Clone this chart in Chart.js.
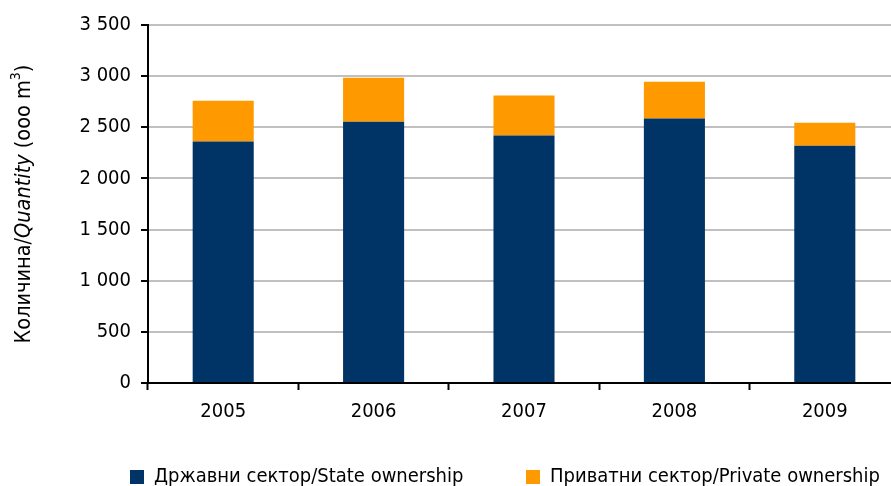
<!DOCTYPE html>
<html>
<head>
<meta charset="utf-8">
<script src="https://cdn.jsdelivr.net/npm/chart.js@4"></script>
<style>
  html, body { margin: 0; padding: 0; background: #fff; overflow: hidden; width: 891px; height: 486px; }
  #wrap { position: absolute; left: 0; top: 0; width: 1000px; height: 497px; }
</style>
</head>
<body>
<div id="wrap"><canvas id="c" width="1000" height="497"></canvas></div>
<script>
// ---- data ----
const years = ['2005', '2006', '2007', '2008', '2009'];
const stateOwnership = [2360, 2555, 2420, 2585, 2320];
const privateOwnership = [400, 430, 390, 360, 225];
const seriesNames = ['Државни сектор/State ownership', 'Приватни сектор/Private ownership'];
const yMin = 0, yMax = 3500, yStep = 500;
const titleParts = [
  { text: 'Количина/', style: 'normal' },
  { text: 'Quantity', style: 'italic' },
  { text: ' (ooo m', style: 'normal' },
  { text: '3', style: 'sup' },
  { text: ')', style: 'normal' }
];

// ---- layout helpers ----
const FAMILY = '"DejaVu Sans Condensed", "DejaVu Sans", sans-serif';
const FS = 20;
const TFS = 21.5;
const W = 1000;
const plotLeft = 148, plotRight = 900;
const mctx = document.createElement('canvas').getContext('2d');
mctx.font = FS + 'px ' + FAMILY;
const t1 = mctx.measureText(seriesNames[0]).width;
const boxW = 14;
const item1X = 130, item2X = 526;
const legPad = Math.max(0, (item2X - item1X) - (boxW + FS / 2 + t1));
const padLeft = item1X - legPad;

function fmt(v) {
  return String(v).replace(/\B(?=(\d{3})+(?!\d))/g, ' ');
}

const yTitlePlugin = {
  id: 'yTitle',
  afterDraw(chart) {
    const ctx = chart.ctx;
    const area = chart.chartArea;
    const fonts = {
      normal: TFS + 'px ' + FAMILY,
      italic: 'italic ' + TFS + 'px ' + FAMILY,
      sup: '14px ' + FAMILY
    };
    let total = 0;
    const widths = titleParts.map(p => { ctx.font = fonts[p.style]; const w = ctx.measureText(p.text).width; total += w; return w; });
    ctx.save();
    ctx.translate(24, (area.top + area.bottom) / 2);
    ctx.rotate(-Math.PI / 2);
    ctx.fillStyle = '#000';
    ctx.textBaseline = 'middle';
    ctx.textAlign = 'left';
    let x = -total / 2;
    titleParts.forEach((p, i) => {
      ctx.font = fonts[p.style];
      ctx.fillText(p.text, x, p.style === 'sup' ? -8 : 0);
      x += widths[i];
    });
    ctx.restore();
  }
};

new Chart(document.getElementById('c'), {
  type: 'bar',
  data: {
    labels: years,
    datasets: [
      { label: seriesNames[0], data: stateOwnership, backgroundColor: '#003366', borderWidth: 0 },
      { label: seriesNames[1], data: privateOwnership, backgroundColor: '#FF9900', borderWidth: 0 }
    ]
  },
  options: {
    responsive: false,
    animation: false,
    devicePixelRatio: 1,
    layout: { padding: { left: padLeft, top: 25, right: 0, bottom: 0 } },
    datasets: { bar: { categoryPercentage: 1, barPercentage: 0.406 } },
    plugins: {
      legend: {
        position: 'bottom',
        align: 'start',
        labels: {
          boxWidth: boxW, boxHeight: 14, padding: legPad,
          color: '#000',
          font: { family: FAMILY, size: FS }
        }
      },
      tooltip: { enabled: false }
    },
    scales: {
      x: {
        stacked: true,
        offset: true,
        grid: { display: true, offset: true, drawOnChartArea: false, drawTicks: true, tickLength: 7, tickColor: '#000', tickWidth: 2 },
        border: { display: true, color: '#000', width: 2 },
        ticks: { color: '#000', mirror: true, padding: -40.5, font: { family: FAMILY, size: FS } },
        afterFit(s) { s.height = 84 - legPad; }
      },
      y: {
        stacked: true,
        min: yMin, max: yMax,
        grid: {
          color: c => (c.tick && c.tick.value === 0) ? '#000' : '#c0c0c0',
          lineWidth: 2, drawTicks: true, tickLength: 7, tickColor: '#000', tickWidth: 2
        },
        border: { display: true, color: '#000', width: 2 },
        ticks: { stepSize: yStep, color: '#000', padding: 10, font: { family: FAMILY, size: FS }, callback: v => fmt(v) },
        afterFit(s) { s.width = plotLeft - padLeft; }
      },
      yR: {
        type: 'linear',
        position: 'right',
        display: true,
        grid: { display: false, drawTicks: false },
        border: { display: false },
        ticks: { display: false },
        afterFit(s) { s.width = W - plotRight; }
      }
    }
  },
  plugins: [yTitlePlugin]
});
</script>
</body>
</html>
